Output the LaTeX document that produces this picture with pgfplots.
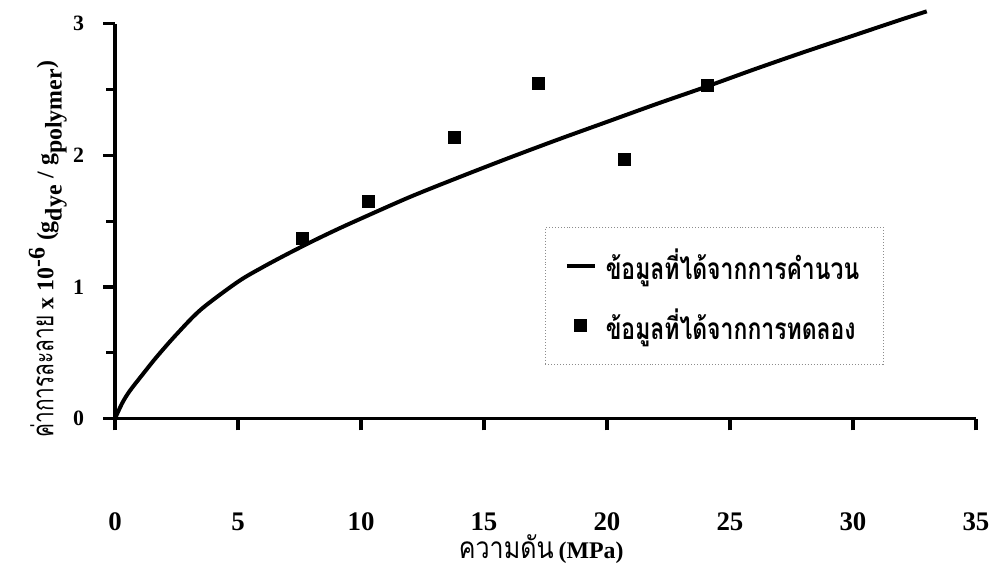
\documentclass[border=0pt]{standalone}
\usepackage{fontspec}
\usepackage{pgfplots}
\pgfplotsset{compat=1.18}
\setmainfont{Liberation Serif}
\newfontfamily\thaileg[Script=Thai, FakeStretch=0.77]{Loma}
\newfontfamily\thaix[Script=Thai, FakeStretch=0.84]{Loma}
\newfontfamily\thaiy[Script=Thai, FakeStretch=0.7]{Loma}

\begin{document}
\begin{tikzpicture}
\begin{axis}[
  scale only axis,
  width=433pt, height=198.5pt,
  xmin=0, xmax=35, ymin=0, ymax=3,
  axis lines*=left,
  axis line style={line width=1.7pt},
  xtick={0,5,...,35},
  ytick={0,1,2,3},
  minor ytick={0.5,1.5,2.5},
  tick align=outside,
  major tick length=6pt,
  minor tick length=4.5pt,
  every tick/.style={black, line width=1.6pt},
  /pgf/number format/assume math mode=true,
  xticklabel style={font=\bfseries\fontsize{13.5}{14}\selectfont, anchor=center, yshift=-46pt},
  yticklabel style={font=\bfseries\fontsize{11}{12}\selectfont, anchor=east, xshift=-6pt},
  xlabel={{\thaix\fontsize{15}{16}\selectfont ความดัน} \textbf{\fontsize{12}{13}\selectfont(MPa)}},
  xlabel style={at={(axis description cs:0.495,-0.33)}, anchor=center},
  ylabel={{\thaiy\fontsize{15}{16}\selectfont ค่าการละลาย}\fontsize{12}{13}\selectfont\bfseries{} x 10$^{\textbf{-6}}$ (g$_{\textbf{dye}}$ / g$_{\textbf{polymer}}$)},
  ylabel style={at={(axis description cs:-0.078,0.43)}, anchor=center},
  legend style={
    at={(0.499,0.486)}, anchor=north west,
    draw=black!45, densely dotted, line width=0.5pt,
    inner xsep=10pt, inner ysep=9pt,
    row sep=9pt,
    font=\thaileg\bfseries\fontsize{15}{16}\selectfont,
  },
  legend cell align=left,
  legend image code/.code={
    \draw[mark repeat=2, mark phase=2, #1] plot coordinates {(0pt,0pt) (7pt,0pt) (14pt,0pt)};
    \path (16.5pt,0pt);
  },
  clip=false,
]
% calculated solubility curve
\addplot[black, line width=2pt, smooth, solid] coordinates {
  (0,0) (0.3,0.12) (0.6,0.21) (1.1,0.33) (1.7,0.47) (2.5,0.64)
  (3.5,0.83) (5,1.04) (6,1.15) (7,1.25) (8,1.345) (9,1.435) (10,1.52)
  (12,1.685) (14,1.835) (16,1.98) (18,2.12) (20,2.255) (22,2.39)
  (24,2.52) (26,2.655) (28,2.785) (30,2.91) (32,3.035) (33,3.095)
};
\addlegendentry{ข้อมูลที่ได้จากการคำนวน}
% experimental solubility
\addplot[only marks, mark=square*, mark size=3pt, black, solid] coordinates {
  (7.6,1.37) (10.3,1.65) (13.8,2.14) (17.2,2.545) (20.7,1.97) (24.1,2.53)
};
\addlegendentry{ข้อมูลที่ได้จากการทดลอง}
\end{axis}
\useasboundingbox (-57.85pt,-73pt) rectangle (440.15pt,210.5pt);
\end{tikzpicture}
\end{document}
